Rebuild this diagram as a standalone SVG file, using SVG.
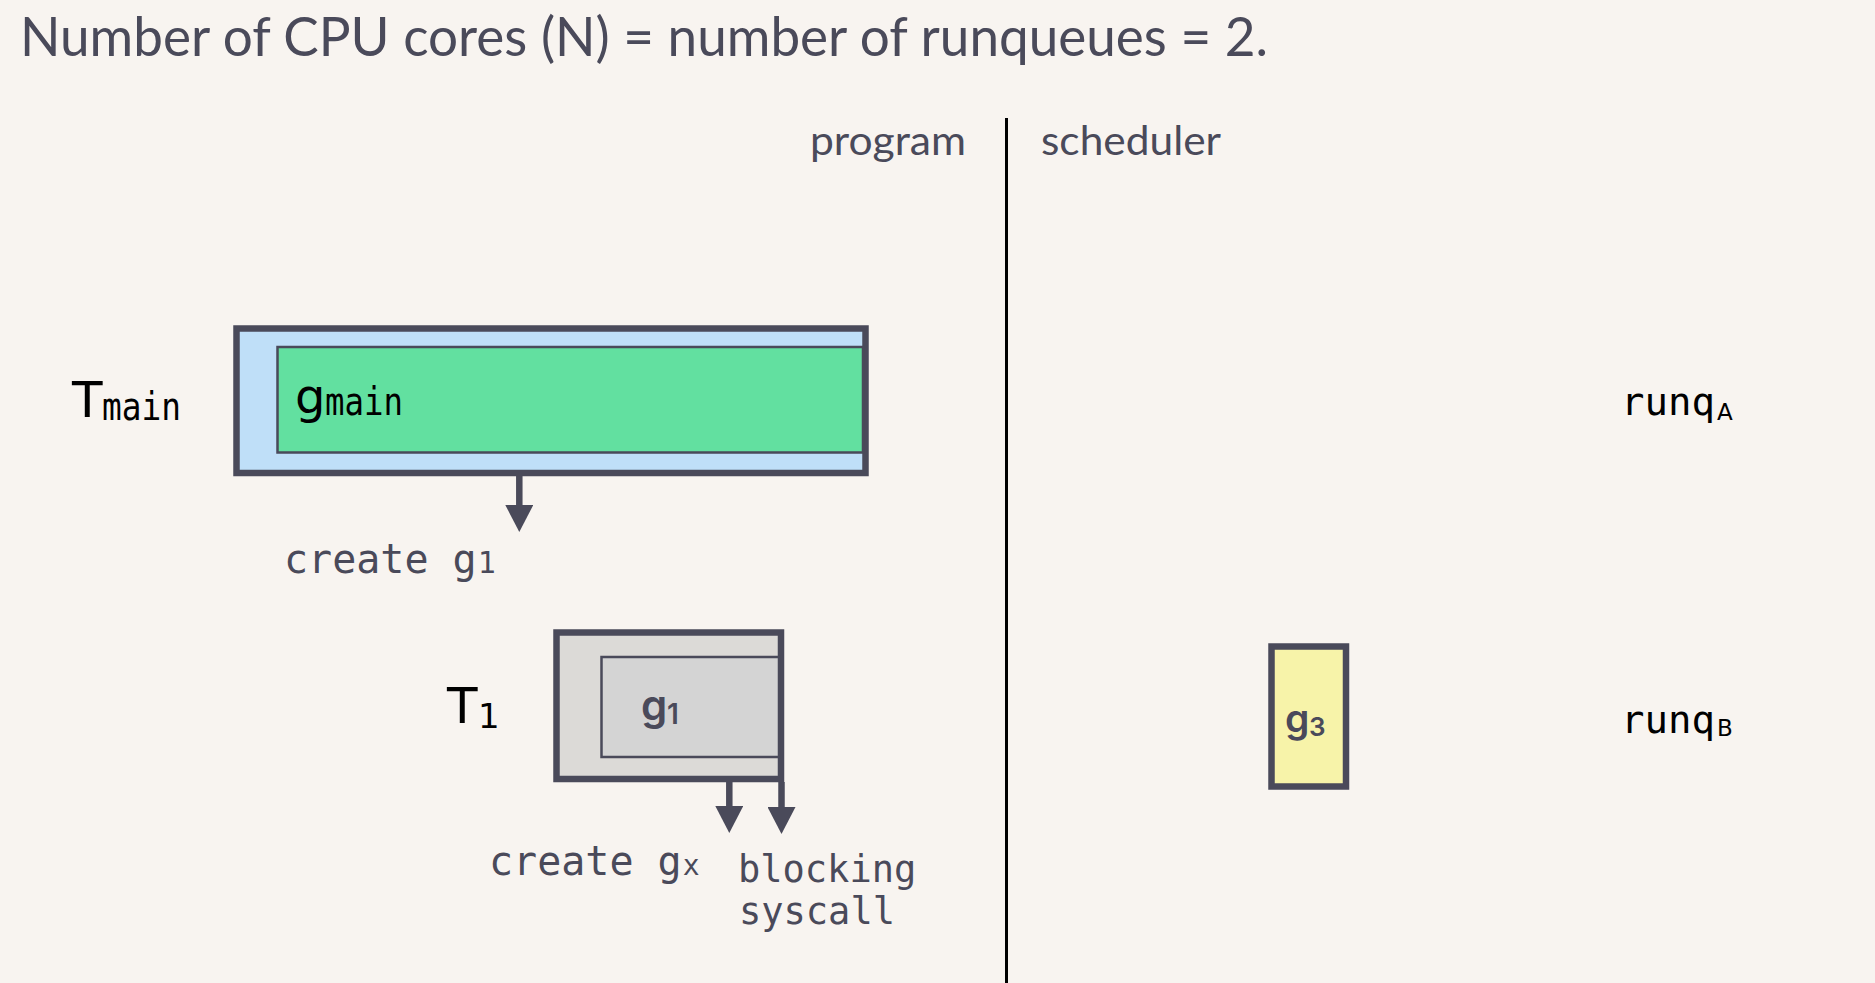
<svg xmlns="http://www.w3.org/2000/svg" width="1875" height="983" viewBox="0 0 1875 983">
<style>
.bg{fill:#f8f4f0}
.outer{stroke:#4a4a5a;stroke-width:6.5}
.inner{stroke:#4a4a5a;stroke-width:2.5}
.title{font-family:Lato,"Open Sans",sans-serif;fill:#4a4a5a}
.mono{font-family:"DejaVu Sans Mono",monospace}
.sans{font-family:"DejaVu Sans",sans-serif}
.gl{font-family:Inter,Roboto,sans-serif;font-weight:600;fill:#4a4a5a}
.lbl{fill:#4a4a5a}
.blk{fill:#000}
.conn{stroke:#4a4a5a;stroke-width:6.5;fill:none}
</style>
<defs>
<marker id="ah" markerUnits="userSpaceOnUse" markerWidth="28" markerHeight="28" refX="1" refY="14" orient="auto" viewBox="0 0 28 28">
<path d="M0,0 L27,14 L0,28 Z" fill="#4a4a5a"/>
</marker>
</defs>
<rect class="bg" x="0" y="0" width="1875" height="983"/>

<g id="title">
<text class="title" x="20" y="56" font-size="54" textLength="1248" lengthAdjust="spacingAndGlyphs">Number of CPU cores (N) = number of runqueues = 2.</text>
</g>

<g id="divider">
<line x1="1006.5" y1="118" x2="1006.5" y2="983" stroke="#000" stroke-width="3"/>
<text class="title" x="810" y="155" font-size="40" textLength="156" lengthAdjust="spacingAndGlyphs">program</text>
<text class="title" x="1041" y="155" font-size="40" textLength="180" lengthAdjust="spacingAndGlyphs">scheduler</text>
</g>

<g id="Tmain">
<rect class="outer" x="236.5" y="328.5" width="629" height="144.5" fill="#bfdff8"/>
<text class="blk" y="417"><tspan class="sans" x="72" font-size="50">T</tspan><tspan class="mono" x="102" y="420" font-size="39" textLength="79" lengthAdjust="spacingAndGlyphs">main</tspan></text>
</g>

<g id="gmain">
<rect class="inner" x="277.5" y="347" width="585.5" height="105.5" fill="#62e0a0"/>
<text class="blk" y="413"><tspan class="sans" x="295" font-size="48">g</tspan><tspan class="mono" x="325" y="415" font-size="39" textLength="78" lengthAdjust="spacingAndGlyphs">main</tspan></text>
</g>

<g id="create-g1">
<text class="mono lbl" x="284" y="573" font-size="40">create g<tspan font-size="30" dx="1">1</tspan></text>
</g>

<g id="T1">
<rect class="outer" x="556.5" y="632.5" width="224.5" height="146.5" fill="#dcdad7"/>
<text class="blk sans" x="447" y="723" font-size="50">T<tspan x="478" y="728" font-size="34">1</tspan></text>
</g>

<g id="g1">
<rect class="inner" x="601.5" y="657" width="177.5" height="100" fill="#d4d4d4"/>
<text class="gl" x="641" y="720" font-size="42">g<tspan x="667" y="724" font-size="28">1</tspan></text>
</g>

<g id="create-gx">
<text class="mono lbl" x="489" y="875" font-size="40">create g<tspan font-size="28" dx="1">x</tspan></text>
</g>

<g id="blocking-syscall">
<text class="mono lbl" font-size="37"><tspan x="738" y="882">blocking</tspan><tspan x="739" y="924">syscall</tspan></text>
</g>

<g id="g3">
<rect class="outer" x="1271.5" y="646.5" width="74.5" height="140" fill="#f7f3a9"/>
<text class="gl" x="1285" y="732" font-size="39">g<tspan x="1309" y="736" font-size="26">3</tspan></text>
</g>

<g id="runqA">
<text class="blk mono" x="1621" y="415" font-size="39">runq<tspan class="sans" font-size="23" dx="2" y="420">A</tspan></text>
</g>

<g id="runqB">
<text class="blk mono" x="1621" y="733" font-size="39">runq<tspan class="sans" font-size="23" dx="2" y="736">B</tspan></text>
</g>

<g id="connectors">
<line class="conn" x1="519.3" y1="476" x2="519.3" y2="506" marker-end="url(#ah)"/>
<line class="conn" x1="729.3" y1="782" x2="729.3" y2="807" marker-end="url(#ah)"/>
<line class="conn" x1="781.5" y1="782" x2="781.5" y2="808" marker-end="url(#ah)"/>
</g>
</svg>
